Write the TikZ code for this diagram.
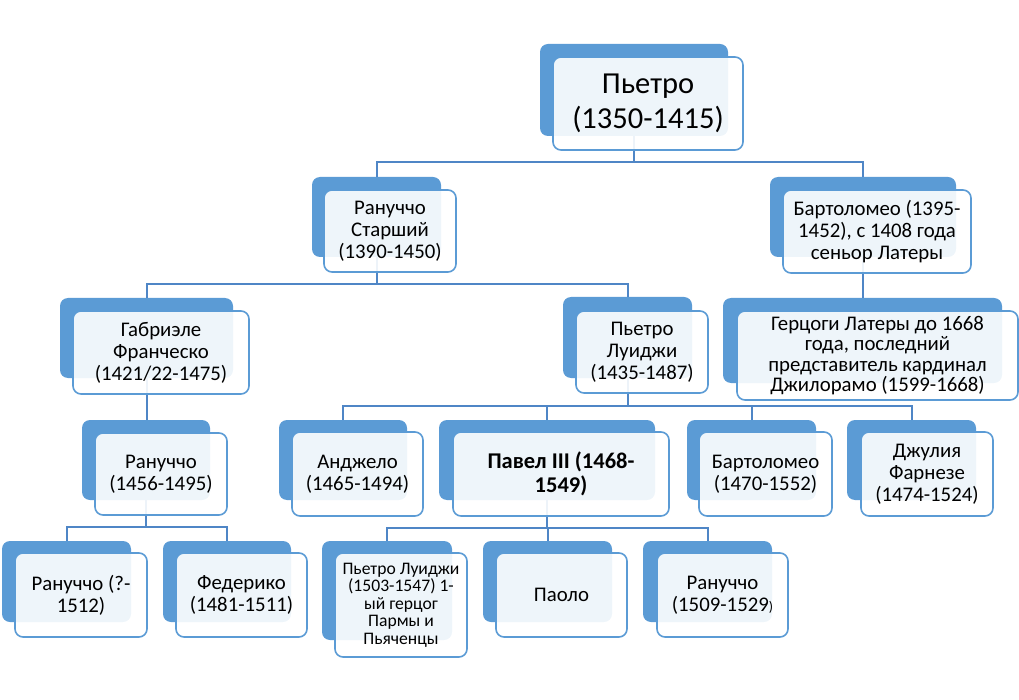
\documentclass[tikz,border=0pt]{standalone}
\usepackage{fontspec}
\setmainfont{Carlito}
\usetikzlibrary{fit}
\definecolor{backblue}{HTML}{5B9BD5}
\definecolor{lineblue}{HTML}{4F86C6}
\begin{document}
\begin{tikzpicture}[x=1pt,y=-1pt,
 backbox/.style={fill=backblue, rounded corners=8pt, inner sep=0pt, draw=none},
 frontbox/.style={draw=backblue, line width=1.6pt, fill=white, fill opacity=0.9, rounded corners=8pt, inner sep=0pt},
 lbl/.style={align=center, inner sep=0pt, font=\fontsize{20.8}{22}\selectfont, text=black},
 conn/.style={draw=lineblue, line width=2pt}]
\useasboundingbox (0,0) rectangle (1019,700);
% back boxes
\node[backbox, fit={(540,44) (728,136)}] (topb) {};
\node[backbox, fit={(312,177) (441,257)}] (rsb) {};
\node[backbox, fit={(770,177) (956,257)}] (bartab) {};
\node[backbox, fit={(723,298) (1002,383)}] (gercb) {};
\node[backbox, fit={(60,298) (233,378)}] (gabb) {};
\node[backbox, fit={(563,297) (692,378)}] (plb) {};
\node[backbox, fit={(82,420) (210,500)}] (ranbb) {};
\node[backbox, fit={(279,420) (407,500)}] (angb) {};
\node[backbox, fit={(439,420) (655,500)}] (pavb) {};
\node[backbox, fit={(687,420) (816,500)}] (bartbb) {};
\node[backbox, fit={(847,420) (976,500)}] (giub) {};
\node[backbox, fit={(2,541) (131,622)}] (rancb) {};
\node[backbox, fit={(163,541) (291,622)}] (fedb) {};
\node[backbox, fit={(322,541) (452,640)}] (plsb) {};
\node[backbox, fit={(483,541) (612,622)}] (paob) {};
\node[backbox, fit={(643,541) (772,622)}] (randb) {};
% buses
\coordinate (bus1) at (0,162);
\coordinate (bus2) at (0,284);
\coordinate (bus3) at (0,406);
\coordinate (bus4) at (0,527);
\coordinate (bus5) at (0,528);
% connectors
\draw[conn] (topb.south) -- (topb.south |- bus1) -| (rsb.north);
\draw[conn] (topb.south) -- (topb.south |- bus1) -| (bartab.north);
\draw[conn] (bartab.south) -- (bartab.south |- gercb.north);
\draw[conn] (rsb.south) -- (rsb.south |- bus2) -| (gabb.north);
\draw[conn] (rsb.south) -- (rsb.south |- bus2) -| (plb.north);
\draw[conn] (gabb.south) -- (gabb.south |- ranbb.north);
\draw[conn] (plb.south) -- (plb.south |- bus3) -| (angb.north);
\draw[conn] (plb.south) -- (plb.south |- bus3) -| (pavb.north);
\draw[conn] (plb.south) -- (plb.south |- bus3) -| (bartbb.north);
\draw[conn] (plb.south) -- (plb.south |- bus3) -| (giub.north);
\draw[conn] (ranbb.south) -- (ranbb.south |- bus4) -| (rancb.north);
\draw[conn] (ranbb.south) -- (ranbb.south |- bus4) -| (fedb.north);
\draw[conn] (pavb.south) -- (pavb.south |- bus5) -| (plsb.north);
\draw[conn] (pavb.south) -- (pavb.south |- bus5) -| (paob.north);
\draw[conn] (pavb.south) -- (pavb.south |- bus5) -| (randb.north);
% front boxes
\node[frontbox, fit={(553,57) (743,150)}] (topf) {};
\node[frontbox, fit={(324,190) (456,272)}] (rsf) {};
\node[frontbox, fit={(783,190) (971,273)}] (bartaf) {};
\node[frontbox, fit={(737,311) (1018,400)}] (gercf) {};
\node[frontbox, fit={(73,311) (249,394)}] (gabf) {};
\node[frontbox, fit={(576,311) (708,393)}] (plf) {};
\node[frontbox, fit={(95,433) (227,515)}] (ranbf) {};
\node[frontbox, fit={(292,432) (423,516)}] (angf) {};
\node[frontbox, fit={(453,432) (669,516)}] (pavf) {};
\node[frontbox, fit={(699,432) (832,516)}] (bartbf) {};
\node[frontbox, fit={(861,432) (993,516)}] (giuf) {};
\node[frontbox, fit={(15,553) (147,637)}] (rancf) {};
\node[frontbox, fit={(176,553) (307,637)}] (fedf) {};
\node[frontbox, fit={(335,553) (467,657)}] (plsf) {};
\node[frontbox, fit={(496,553) (627,637)}] (paof) {};
\node[frontbox, fit={(657,553) (788,637)}] (randf) {};
% labels
\node[lbl, font=\fontsize{30.5}{35}\selectfont] (top) at (topf.center) {Пьетро\\(1350-1415)};
\node[lbl] (rs) at (rsf.center) {Рануччо\\Старший\\(1390-1450)};
\node[lbl] (barta) at (bartaf.center) {Бартоломео (1395-\\1452), с 1408 года\\сеньор Латеры};
\node[lbl, font=\fontsize{20.8}{20.5}\selectfont] (gerc) at (gercf.center) {Герцоги Латеры до 1668\\года, последний\\представитель кардинал\\Джилорамо (1599-1668)};
\node[lbl] (gab) at (gabf.center) {Габриэле\\Франческо\\(1421/22-1475)};
\node[lbl] (pl) at (plf.center) {Пьетро\\Луиджи\\(1435-1487)};
\node[lbl] (ranb) at (ranbf.center) {Рануччо\\(1456-1495)};
\node[lbl] (ang) at (angf.center) {Анджело\\(1465-1494)};
\node[lbl, font=\fontsize{22.5}{24}\selectfont\bfseries] (pav) at (pavf.center) {Павел III (1468-\\1549)};
\node[lbl] (bartb) at (bartbf.center) {Бартоломео\\(1470-1552)};
\node[lbl] (giu) at (giuf.center) {Джулия\\Фарнезе\\(1474-1524)};
\node[lbl] (ranc) at (rancf.center) {Рануччо (?-\\1512)};
\node[lbl] (fed) at (fedf.center) {Федерико\\(1481-1511)};
\node[lbl, font=\fontsize{17.6}{17.5}\selectfont] (pls) at (plsf.center) {Пьетро Луиджи\\(1503-1547) 1-\\ый герцог\\Пармы и\\Пьяченцы};
\node[lbl] (pao) at (paof.center) {Паоло};
\node[lbl] (rand) at (randf.center) {Рануччо\\(1509-1529{\fontsize{14}{22}\selectfont)}};
\end{tikzpicture}
\end{document}
